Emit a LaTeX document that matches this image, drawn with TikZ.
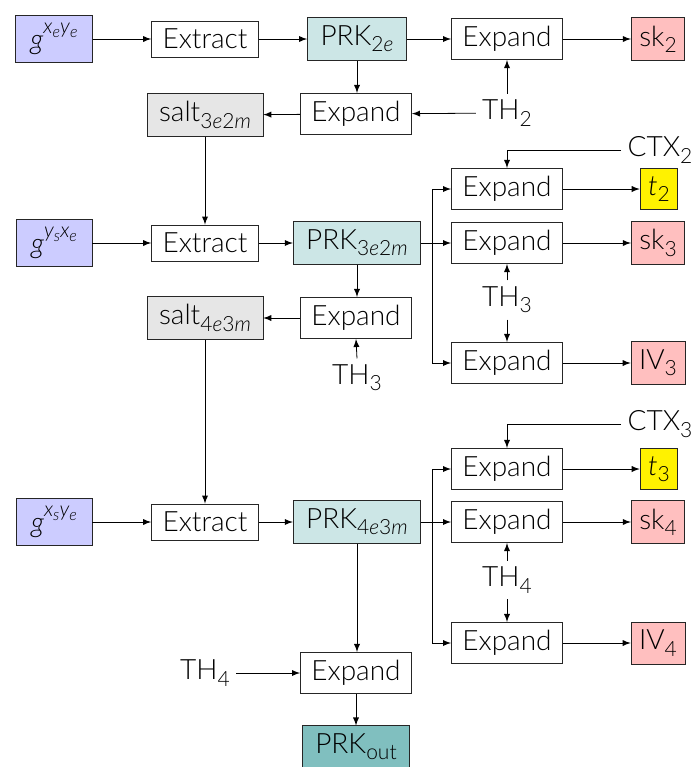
\documentclass[tikz,border=0pt]{standalone}
\usepackage{fontspec}
\setmainfont{Lato Light}
\usetikzlibrary{positioning}
\definecolor{gblue}{RGB}{204,204,255}
\definecolor{prkgreen}{RGB}{204,230,230}
\definecolor{outgreen}{RGB}{128,191,191}
\definecolor{saltgray}{RGB}{230,230,230}
\definecolor{keyred}{RGB}{255,191,191}
\newcommand{\ita}[1]{\textit{#1}}
\newcommand{\lo}[1]{\raisebox{-0.45ex}{\fontsize{10.5}{12}\selectfont #1}}
\newcommand{\hi}[1]{\raisebox{1.1ex}{\fontsize{10.5}{12}\selectfont #1}}
\newcommand{\hlo}[1]{\raisebox{-0.35ex}{\fontsize{8}{9}\selectfont #1}}
\newcommand{\gexp}[4]{\ita{g}\hi{\ita{#1}\hlo{\ita{#2}}\ita{#3}\hlo{\ita{#4}}}}

\begin{document}
\begin{tikzpicture}[
    x=0.5pt, y=-0.5pt,
    >=latex,
    font=\fontsize{14}{16}\selectfont,
    blok/.style={rectangle, draw=black!85, fill=white, inner xsep=5.5pt, inner ysep=4pt},
    gval/.style={blok, fill=gblue, inner xsep=7.5pt},
    prk/.style={blok, fill=prkgreen, inner xsep=6.5pt},
    prkout/.style={blok, fill=outgreen, inner xsep=6.5pt},
    salt/.style={blok, fill=saltgray, inner xsep=6pt},
    keyout/.style={blok, fill=keyred, inner xsep=4pt},
    tag/.style={blok, fill=yellow, inner xsep=4pt},
    txt/.style={rectangle, inner sep=3pt}
    ]
\useasboundingbox (0,0) rectangle (694,767);

% first stage
\node[gval] (gA) at (54,39) {\gexp{x}{e}{y}{e}};
\node[blok] (extA) at (205,39) {Extract};
\node[prk] (prkA) at (357,39) {PRK\lo{2\ita{e}}};
\node[blok] (expA) at (507,39) {Expand};
\node[keyout] (skA) at (658,39) {sk\lo{2}};
\node[salt] (saltA) at (205,115) {salt\lo{3\ita{e}2\ita{m}}};
\node[blok] (expB) at (356,114) {Expand};
\node[txt] (thA) at (507,113) {TH\lo{2}};

% second stage
\node[txt] (ctxA) at (660,150) {CTX\lo{2}};
\node[blok] (expC) at (507,189) {Expand};
\node[tag] (tA) at (659,189) {\ita{t}\lo{2}};
\node[gval] (gB) at (54,243) {\gexp{y}{s}{x}{e}};
\node[blok] (extB) at (205,243) {Extract};
\node[prk] (prkB) at (357,243) {PRK\lo{3\ita{e}2\ita{m}}};
\node[blok] (expD) at (507,243) {Expand};
\node[keyout] (skB) at (658,243) {sk\lo{3}};
\node[txt] (thB) at (507,300) {TH\lo{3}};
\node[blok] (expE) at (507,363) {Expand};
\node[keyout] (ivA) at (658,363) {IV\lo{3}};
\node[salt] (saltB) at (205,318) {salt\lo{4\ita{e}3\ita{m}}};
\node[blok] (expF) at (356,318) {Expand};
\node[txt] (thC) at (357,378) {TH\lo{3}};

% third stage
\node[txt] (ctxB) at (660,424) {CTX\lo{3}};
\node[blok] (expG) at (507,469) {Expand};
\node[tag] (tB) at (659,469) {\ita{t}\lo{3}};
\node[gval] (gC) at (54,522) {\gexp{x}{s}{y}{e}};
\node[blok] (extC) at (205,522) {Extract};
\node[prk] (prkC) at (357,522) {PRK\lo{4\ita{e}3\ita{m}}};
\node[blok] (expH) at (507,522) {Expand};
\node[keyout] (skC) at (658,522) {sk\lo{4}};
\node[txt] (thD) at (507,580) {TH\lo{4}};
\node[blok] (expI) at (507,643) {Expand};
\node[keyout] (ivB) at (658,643) {IV\lo{4}};
\node[txt] (thE) at (205,673) {TH\lo{4}};
\node[blok] (expJ) at (356,673) {Expand};
\node[prkout] (prkD) at (356,747) {PRK\lo{out}};

\coordinate (brB) at (432,243);
\coordinate (brC) at (432,522);

% connectors
\draw[->] (gA) -- (extA);
\draw[->] (extA) -- (prkA);
\draw[->] (prkA) -- (expA);
\draw[->] (expA) -- (skA);
\draw[->] (prkA.south) -- (prkA.south |- expB.north);
\draw[->] (thA) -- (expB);
\draw[->] (thA.north) -- (expA.south);
\draw[->] (expB) -- (saltA);
\draw[->] (saltA) -- (extB);

\draw[->] (gB) -- (extB);
\draw[->] (extB) -- (prkB);
\draw[->] (prkB) -- (expD);
\draw[->] (brB) |- (expC.west);
\draw[->] (brB) |- (expE.west);
\draw[->] (ctxA.west) -| (expC.north);
\draw[->] (expC) -- (tA);
\draw[->] (expD) -- (skB);
\draw[->] (expE) -- (ivA);
\draw[->] (thB.north) -- (expD.south);
\draw[->] (thB.south) -- (expE.north);
\draw[->] (prkB.south) -- (prkB.south |- expF.north);
\draw[->] (thC.north) -- (expF.south);
\draw[->] (expF) -- (saltB);
\draw[->] (saltB) -- (extC);

\draw[->] (gC) -- (extC);
\draw[->] (extC) -- (prkC);
\draw[->] (prkC) -- (expH);
\draw[->] (brC) |- (expG.west);
\draw[->] (brC) |- (expI.west);
\draw[->] (ctxB.west) -| (expG.north);
\draw[->] (expG) -- (tB);
\draw[->] (expH) -- (skC);
\draw[->] (expI) -- (ivB);
\draw[->] (thD.north) -- (expH.south);
\draw[->] (thD.south) -- (expI.north);
\draw[->] (prkC.south) -- (prkC.south |- expJ.north);
\draw[->] (thE) -- (expJ);
\draw[->] (expJ) -- (prkD);
\end{tikzpicture}
\end{document}
